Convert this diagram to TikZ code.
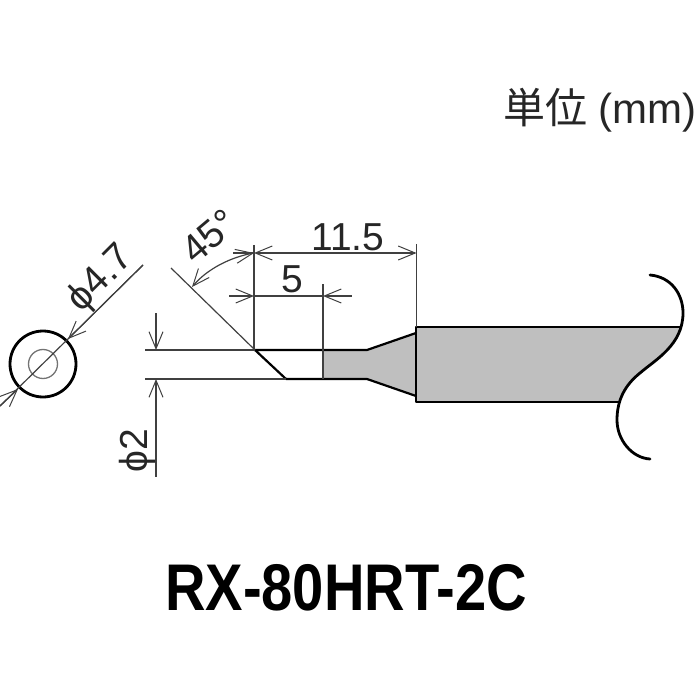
\documentclass[tikz,border=0pt]{standalone}
\usepackage{fontspec}
\setmainfont{Liberation Sans}
\newfontfamily\cjk{Noto Sans CJK JP}
\usetikzlibrary{arrows.meta}
\begin{document}
\begin{tikzpicture}[
    x=1pt, y=-1pt,
    >={Straight Barb[length=17pt, width=14pt, line width=1pt]},
    dim/.style={draw=black!75, line width=1.2pt},
    outline/.style={draw=black, line width=2.8pt, line cap=round, line join=round},
    tipline/.style={draw=black, line width=2.2pt, line cap=round, line join=round},
    label/.style={inner sep=0pt, font=\fontsize{39}{39}\selectfont, text=black!85}
]
\useasboundingbox (0,0) rectangle (700,700);

% grey parts
\fill[black!25] (323,350) -- (367,350) -- (416,333) -- (416,396) -- (367,379) -- (323,379) -- cycle;
\fill[black!25] (416,327) -- (680,327) .. controls (672,352) and (652,362) .. (640,373)
    .. controls (630,381) and (623,390) .. (619,402) -- (416,402) -- cycle;

% tip outline
\coordinate (tipa) at (255,350);
\coordinate (tipb) at (286,379);
\coordinate (necka) at (367,350);
\coordinate (neckb) at (367,379);
\coordinate (bodya) at (416,333);
\coordinate (bodyb) at (416,396);
\draw[tipline] (tipb) -- (tipa) -- (necka) -- (bodya);
\draw[tipline] (tipb) -- (neckb) -- (bodyb);

% shank
\draw[outline] (680,327) -- (416,327) -- (416,402) -- (619,402);
\draw[outline] (650,275) .. controls (672,277) and (683,295) .. (683,313)
    .. controls (683,345) and (655,360) .. (640,373)
    .. controls (625,385) and (617,400) .. (617,420)
    .. controls (617,440) and (632,458) .. (650,459);

% extension lines
\draw[dim] (171,268) -- (tipa);
\draw[dim] (254,245) -- (254,350);
\draw[dim] (416.5,244) -- (416.5,327);
\draw[dim] (323,284) -- (323,379);
\draw[dim] (145,350) -- (tipa);
\draw[dim] (145,379) -- (tipb);

% dimensions
\draw[dim, <->] (254,253) -- (416.5,253);
\draw[dim] (233,253) -- (254,253);
\draw[dim, ->] (229,296) -- (254,296);
\draw[dim] (254,296) -- (323,296);
\draw[dim, <-] (323,296) -- (352,296);
\draw[dim, <->] (254,253) .. controls (232,257) and (208,268) .. (192,287);
\draw[dim, ->] (156,313) -- (156,350);
\draw[dim, <-] (156,379) -- (156,477);

% end view
\node[circle, draw=black, line width=2.8pt, minimum size=66pt, inner sep=0pt] (outer) at (43,364) {};
\node[circle, draw=black!55, line width=1.3pt, minimum size=29pt, inner sep=0pt] (inner) at (43,364) {};
\draw[dim] (143,265) -- (0,406);
\draw[dim, <-] (68,339) -- (143,265);
\draw[dim, <-] (18,389) -- (0,406);

% labels
\node[label] (lenlong) at (348,237) {11.5};
\node[label] (lenshort) at (292,279) {5};
\node[label, rotate=40] (angle) at (209,236) {45°};
\node[label, rotate=45] (diaouter) at (101,279) {ϕ4.7};
\node[label, rotate=90] (diatip) at (137,451) {ϕ2};
\node[label, anchor=east, font=\fontsize{42}{42}\selectfont] (unit) at (697,110) {{\cjk 単位} (mm)};
\node[inner sep=0pt, xscale=.85, font=\fontsize{66}{66}\selectfont\bfseries] (model) at (346,588) {RX-80HRT-2C};
\end{tikzpicture}
\end{document}
